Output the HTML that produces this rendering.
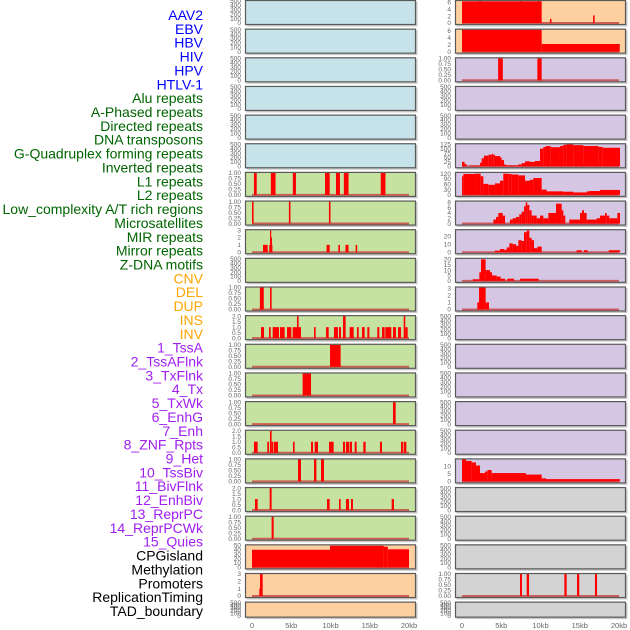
<!DOCTYPE html>
<html><head><meta charset="utf-8"><style>
html,body{margin:0;padding:0;background:#fff;}
svg{display:block;font-family:"Liberation Sans",sans-serif;}
</style></head><body>
<svg id="chart" width="630" height="630" viewBox="0 0 630 630">
<g id="labels"></g>
<g id="panels"></g>
<g id="xaxes"></g>
</svg>
<script>
const trackLabels = ["AAV2","EBV","HBV","HIV","HPV","HTLV-1","Alu repeats","A-Phased repeats","Directed repeats","DNA transposons","G-Quadruplex forming repeats","Inverted repeats","L1 repeats","L2 repeats","Low_complexity A/T rich regions","Microsatellites","MIR repeats","Mirror repeats","Z-DNA motifs","CNV","DEL","DUP","INS","INV","1_TssA","2_TssAFlnk","3_TxFlnk","4_Tx","5_TxWk","6_EnhG","7_Enh","8_ZNF_Rpts","9_Het","10_TssBiv","11_BivFlnk","12_EnhBiv","13_ReprPC","14_ReprPCWk","15_Quies","CPGisland","Methylation","Promoters","ReplicationTiming","TAD_boundary"];
const labelGroups = [6,13,5,15,5];
const labelColors = ["#0000ff","#006400","#ffa500","#a020f0","#000000"];
const xTickValues = [0,5000,10000,15000,20000];
const xTickLabels = ["0","5kb","10kb","15kb","20kb"];
const T500 = [0,100,200,300,400,500];
const T1 = ["0.00","0.25","0.50","0.75","1.00"];
const T2 = ["0.0","0.5","1.0","1.5","2.0"];
// segments: [startKb, endKb, value]
const leftSegs = [
 [],[],[],[],[],[],
 [[0.25,0.6,1],[2.4,3.0,1],[5.2,5.6,1],[9.3,9.9,1],[10.7,11.2,1],[11.7,12.3,1],[16.4,17.0,1]],
 [[0,0.2,1],[4.7,4.9,1],[9.8,10.0,1]],
 [[1.4,2.0,1],[2.2,2.6,1],[2.3,2.45,3],[2.4,2.5,2],[9.5,9.9,1],[11.0,11.2,1],[11.9,12.3,1],[13.2,13.4,1]],
 [],
 [[1.0,1.5,1],[2.3,2.5,1]],
 [[1.15,1.53,1],[2.17,2.38,1],[2.63,3.44,1],[3.57,4.16,1],[4.46,5.01,1],[5.18,6.24,1],[5.73,5.94,2],[7.9,8.11,1],[9.43,9.77,1],[10.44,10.95,1],[11.08,11.34,1],[11.59,11.93,2],[12.44,12.95,1],[13.37,13.59,1],[14.01,14.35,1],[14.69,14.95,1],[15.96,16.22,1],[16.56,16.9,1],[16.98,17.75,1],[17.96,18.34,1],[18.6,18.98,1],[19.32,19.53,2],[19.53,19.83,1]],
 [[9.94,11.29,1]],
 [[6.45,7.52,1]],
 [[17.96,18.3,1]],
 [[0.25,0.72,1],[1.95,2.17,1],[2.29,2.5,2],[2.5,2.72,1],[2.8,3.31,1],[5.22,5.43,1],[7.52,7.77,1],[7.98,8.41,1],[9.81,10.4,1],[11.59,11.85,1],[11.97,12.36,1],[12.44,12.74,1],[13.08,13.33,1],[14.18,14.48,1],[16.3,16.56,1],[18.98,19.23,1],[19.32,19.66,1]],
 [[5.86,6.24,1],[7.9,8.2,1],[8.79,9.17,1]],
 [[0.38,0.72,1],[2.25,2.5,2],[9.55,9.89,1],[11.08,11.29,1],[11.97,12.36,1],[12.61,12.86,1],[17.79,18.09,1]],
 [[2.5,2.76,1]],
 [[0,9.94,40],[9.94,16.8,49],[16.8,17.3,47],[17.3,20.0,41]],
 [[0.93,1.06,1],[1.02,1.36,3]],
 []
];
const rightSegs = [
 [[0,10.15,6.3],[2.2,2.4,9],[7.4,7.6,9],[9.7,9.9,9],[11.2,11.4,1.2],[16.7,16.9,2.2]],
 [[0,10.15,6.3],[10.15,20.1,2.2]],
 [[4.6,5.2,1],[9.6,10.15,1]],
 [],[],
 [[0,0.34,25],[0.34,0.59,12],[1.02,2.29,4],[2.29,2.5,20],[2.5,2.8,45],[2.8,3.35,60],[3.35,3.78,65],[3.78,3.99,70],[3.99,4.2,65],[4.2,4.84,58],[4.84,5.05,50],[5.05,5.35,35],[5.35,5.6,10],[5.6,7.18,5],[7.18,7.6,10],[7.6,8.03,18],[8.03,8.66,28],[8.66,9.3,25],[9.3,9.94,30],[9.94,10.36,100],[10.36,10.7,110],[10.7,11.3,115],[11.3,12.48,108],[12.48,12.91,115],[12.91,13.33,122],[13.33,14.18,125],[14.18,15.46,120],[15.46,17.37,115],[17.37,17.92,110],[17.92,20.13,105]],
 [[0,0.17,105],[0.17,1.66,118],[1.66,2.38,120],[2.38,2.72,105],[2.72,3.35,62],[3.35,4.2,57],[4.2,4.84,65],[4.84,5.26,80],[5.26,5.9,120],[5.9,6.33,118],[6.33,7.18,115],[7.18,8.03,110],[8.03,8.66,80],[8.66,9.09,85],[9.09,10.15,95],[10.15,10.78,30],[10.78,12.91,20],[12.91,14.18,18],[14.18,15.88,14],[15.88,16.3,20],[16.3,17.58,22],[17.58,20.13,28]],
 [[4.0,4.33,1.5],[4.33,4.63,2.5],[4.63,5.18,4],[5.18,5.48,3],[6.11,6.45,1.5],[6.45,6.88,2],[6.88,7.3,2.5],[7.3,7.6,3.5],[7.6,7.9,4.5],[7.9,8.11,6.5],[8.11,8.32,8],[8.32,8.58,7],[8.58,8.87,5],[8.87,9.09,3],[9.09,9.51,3],[9.51,9.94,2],[9.94,10.36,3],[10.36,11.0,2],[11.0,11.97,4],[11.97,12.7,7.5],[12.7,12.91,5],[12.91,13.16,3],[13.67,15.03,1.5],[15.03,15.29,4],[15.29,15.54,5],[15.54,15.88,4],[15.88,17.15,1.5],[17.15,17.58,2],[17.58,18.22,3],[18.22,18.43,4],[18.43,18.77,3],[18.77,19.79,2],[19.79,20.13,4]],
 [[4.2,4.84,2],[4.84,5.35,4],[5.35,5.69,3],[5.69,6.03,6],[6.03,6.45,11],[6.45,6.88,10],[6.88,7.18,8],[7.18,7.6,15],[7.6,7.9,14],[7.9,8.24,25],[8.24,8.58,27],[8.58,8.87,18],[8.87,9.17,15],[9.17,9.6,5],[9.6,10.15,7],[14.6,15.24,2.5],[15.54,16.0,2.5],[18.7,20.13,2.5]],
 [[1.36,2.21,1.5],[2.21,2.42,8],[2.42,3.01,20],[3.01,3.57,10],[3.57,3.82,8],[3.82,4.42,5],[4.42,4.92,4],[4.92,5.48,2],[5.77,6.62,2],[7.39,9.77,2]],
 [[1.95,2.17,1],[2.17,3.01,3.3],[3.01,3.44,1]],
 [],[],[],[],[],
 [[0,0.51,14.5],[0.51,1.23,13.5],[1.23,1.78,12.5],[1.78,2.29,10.5],[2.29,2.93,5.5],[2.93,3.23,6.5],[3.23,3.78,7.5],[3.78,8.15,5.5],[8.15,10.15,4.5],[10.15,10.7,2],[10.7,20.13,1.5]],
 [],[],[],
 [[7.39,7.64,1],[8.24,8.54,1],[13.04,13.33,1],[14.65,14.94,1],[16.94,17.2,1]],
 []
];
// [ymax, tick labels, tick values]
const leftAxes = [
 [500,T500],[500,T500],[500,T500],[500,T500],[500,T500],[500,T500],
 [1,T1],[1,T1],[3,[0,1,2,3]],[500,T500],[1,T1],[2,T2],[1,T1],[1,T1],[1,T1],[2,T2],[1,T1],[2,T2],[1,T1],
 [50,[0,10,20,30,40,50]],[3,[0,1,2,3]],[500,T500]
];
const rightAxes = [
 [6.4,[0,2,4,6]],[6.3,[0,2,4,6]],[1,T1],[500,T500],[500,T500],
 [125,[0,25,50,75,100,125]],[124,[0,30,60,90,120]],[8.3,[0,2,4,6,8]],[27.5,[0,10,20]],[20.5,[0,5,10,15,20]],[3.1,[0,1,2,3]],
 [500,T500],[500,T500],[500,T500],[500,T500],[500,T500],[14.5,[0,5,10]],
 [500,T500],[500,T500],[500,T500],[1,T1],[500,T500]
];
const leftColors = ["#c6e3ea","#c6e3ea","#c6e3ea","#c6e3ea","#c6e3ea","#c6e3ea","#c6e2a1","#c6e2a1","#c6e2a1","#c6e2a1","#c6e2a1","#c6e2a1","#c6e2a1","#c6e2a1","#c6e2a1","#c6e2a1","#c6e2a1","#c6e2a1","#c6e2a1","#ffd09f","#ffd09f","#ffd09f"];
const rightColors = ["#ffd09f","#ffd09f","#d5c6e3","#d5c6e3","#d5c6e3","#d5c6e3","#d5c6e3","#d5c6e3","#d5c6e3","#d5c6e3","#d5c6e3","#d5c6e3","#d5c6e3","#d5c6e3","#d5c6e3","#d5c6e3","#d5c6e3","#d3d3d3","#d3d3d3","#d3d3d3","#d3d3d3","#d3d3d3"];

const NS="http://www.w3.org/2000/svg";
function mk(tag, attrs, parent){const e=document.createElementNS(NS,tag);for(const k in attrs)e.setAttribute(k,attrs[k]);if(parent)parent.appendChild(e);return e;}
const gLab=document.getElementById('labels'), gPan=document.getElementById('panels'), gX=document.getElementById('xaxes');

// labels
let gi=0, cnt=0;
trackLabels.forEach((t,i)=>{
  while(cnt>=labelGroups[gi]){gi++;cnt=0;}
  cnt++;
  const tx=mk('text',{x:203,y:15+i*13.86+5,'text-anchor':'end','font-size':'14',fill:labelColors[gi]},gLab);
  
  
  tx.textContent=t;
});

const colX=[245,455], W=171;
function xScale(col,kb){return colX[col]+7+kb*7.85;}
function rowTop(i){return i*28.65;}
function rowH(i){return i===21?16:25;}

function drawPanel(col,i,segs,axis,color){
  const top=rowTop(i), h=rowH(i), bot=top+h, x0=colX[col];
  const g=mk('g',{},gPan);
  
  
  const ymax=axis[0], ticks=axis[1];
  const yS=v=>bot-2-(v/ymax)*(h-3);
  mk('rect',{x:x0+1.5,y:top+1.5,width:W,height:h,fill:'#c8c8c8'},g);
  const bg=mk('rect',{x:x0,y:top,width:W,height:h,fill:color},g);
  
  
  const cid='c'+col+'_'+i;
  const cp=mk('clipPath',{id:cid},g);
  mk('rect',{x:x0,y:top,width:W,height:h},cp);
  const gd=mk('g',{'clip-path':'url(#'+cid+')'},g);
  if(ymax!==500){
    const bl=mk('line',{x1:xScale(col,0),x2:xScale(col,20),y1:bot-2,y2:bot-2,stroke:'#c84040','stroke-width':2,'stroke-opacity':0.8},gd);
    
    
  }
  segs.forEach(s=>{
    const y=yS(s[2]);
    const r=mk('rect',{x:xScale(col,s[0]),y:y,width:Math.max(1.2,(s[1]-s[0])*7.85),height:Math.max(0,bot-2-y),fill:'#ff0000'},gd);
    
    
  });
  mk('rect',{x:x0+0.5,y:top+0.5,width:W-1,height:h-1,fill:'none',stroke:'#5a5a5a','stroke-width':1.2},g);
  ticks.forEach((tl,k)=>{
    const v=(typeof tl==='string')?parseFloat(tl):tl;
    const t=mk('text',{x:x0-4,y:yS(v)+2.2,'text-anchor':'end','font-size':'6.5',fill:'#666'},g);
    
    
    t.textContent=tl;
  });
}
for(let i=0;i<22;i++){
  drawPanel(0,i,leftSegs[i],leftAxes[i],leftColors[i]);
  drawPanel(1,i,rightSegs[i],rightAxes[i],rightColors[i]);
}
[0,1].forEach(col=>{
  xTickValues.forEach((v,k)=>{
    const t=mk('text',{x:xScale(col,v/1000),y:628,'text-anchor':'middle','font-size':'7.5',fill:'#666'},gX);
    
    
    t.textContent=xTickLabels[k];
  });
});
</script>
</body></html>
